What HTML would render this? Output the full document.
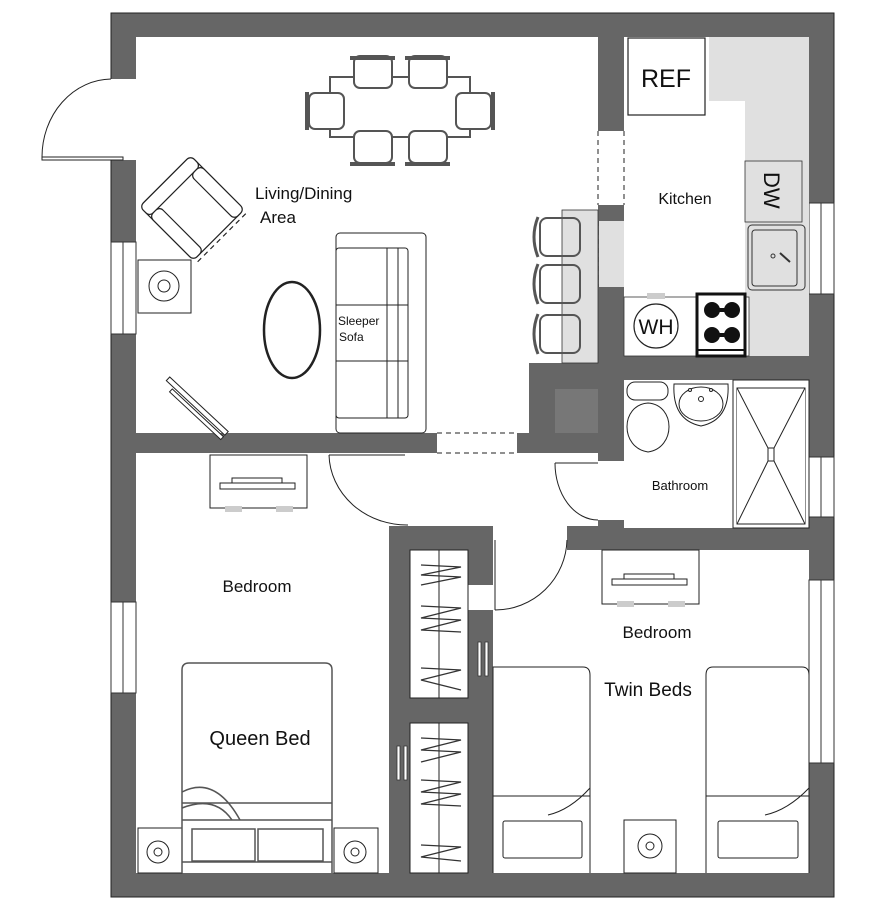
<!DOCTYPE html>
<html><head><meta charset="utf-8"><style>
html,body{margin:0;padding:0;background:#fff;}
svg{display:block;}
text{font-family:"Liberation Sans",Arial,sans-serif;fill:#111;}
</style></head><body>
<svg width="892" height="903" viewBox="0 0 892 903" xmlns="http://www.w3.org/2000/svg">
<rect x="0" y="0" width="892" height="903" fill="#fff"/>
<!-- walls -->
<rect x="111" y="13" width="723" height="884" fill="#666" stroke="#222" stroke-width="1"/>
<g fill="#fff" stroke="none">
<rect x="136" y="37" width="462" height="396"/>
<rect x="624" y="37" width="185" height="319"/>
<rect x="624" y="380" width="185" height="148"/>
<rect x="597" y="461" width="28" height="59"/>
<rect x="389" y="453" width="209" height="73"/>
<rect x="493" y="525" width="74" height="26"/>
<rect x="136" y="453" width="253" height="420"/>
<rect x="493" y="550" width="316" height="323"/>
<rect x="437" y="432" width="80" height="22"/>
<rect x="597" y="131" width="28" height="74"/>
<rect x="110" y="79" width="27" height="81"/>
<rect x="468" y="585" width="26" height="25"/>
</g>
<!-- dark block -->
<rect x="529" y="363" width="69" height="70" fill="#666"/>
<rect x="555" y="389" width="43" height="44" fill="#777"/>
<!-- dashed openings -->
<g stroke="#222" stroke-width="1" stroke-dasharray="5,4" fill="none">
<line x1="437" y1="433" x2="517" y2="433"/><line x1="437" y1="453" x2="517" y2="453"/>
<line x1="598" y1="131" x2="598" y2="205"/><line x1="624" y1="131" x2="624" y2="205"/>
<line x1="598" y1="221" x2="598" y2="287"/>
</g>
<rect x="599" y="221" width="25" height="66" fill="#e0e0e0"/>
<!-- windows -->
<g fill="#fff" stroke="#333" stroke-width="1">
<rect x="111" y="242" width="25" height="92"/><line x1="123" y1="242" x2="123" y2="334"/>
<rect x="111" y="602" width="25" height="91"/><line x1="123" y1="602" x2="123" y2="693"/>
<rect x="809" y="203" width="25" height="91"/><line x1="821" y1="203" x2="821" y2="294"/>
<rect x="809" y="457" width="25" height="60"/><line x1="821" y1="457" x2="821" y2="517"/>
<rect x="809" y="580" width="25" height="183"/><line x1="821" y1="580" x2="821" y2="763"/>
</g>
<!-- doors -->
<g fill="none" stroke="#222" stroke-width="1">
<rect x="42" y="157" width="81" height="3" fill="#fff"/>
<path d="M42 157 A70 78 0 0 1 111 79"/>
<path d="M329 455 A78 72 0 0 0 408 525"/>
<line x1="329" y1="455" x2="405" y2="455"/>
<path d="M555 463 A43 57 0 0 0 598 520"/>
<line x1="555" y1="463" x2="598" y2="463"/>
<path d="M495 610 A72 72 0 0 0 567 540"/>
<line x1="495" y1="540" x2="495" y2="610"/>
</g>
<g fill="#fff" stroke="#333" stroke-width="0.8">
<rect x="478" y="642" width="3" height="34"/><rect x="485" y="642" width="3" height="34"/>
<rect x="397" y="746" width="3" height="34"/><rect x="404" y="746" width="3" height="34"/>
</g>
<!-- dining -->
<g fill="none" stroke="#555" stroke-width="2">
<rect x="330" y="77" width="140" height="60"/>
<rect x="354" y="56" width="38" height="32" rx="6" fill="#fff"/><rect x="409" y="56" width="38" height="32" rx="6" fill="#fff"/>
<rect x="354" y="131" width="38" height="32" rx="6" fill="#fff"/><rect x="409" y="131" width="38" height="32" rx="6" fill="#fff"/>
<rect x="309" y="93" width="35" height="36" rx="6" fill="#fff"/><rect x="456" y="93" width="35" height="36" rx="6" fill="#fff"/>
<line x1="350" y1="58" x2="395" y2="58" stroke-width="4"/><line x1="405" y1="58" x2="450" y2="58" stroke-width="4"/>
<line x1="350" y1="164" x2="395" y2="164" stroke-width="4"/><line x1="405" y1="164" x2="450" y2="164" stroke-width="4"/>
<line x1="307" y1="92" x2="307" y2="130" stroke-width="4"/><line x1="493" y1="92" x2="493" y2="130" stroke-width="4"/>
</g>
<!-- armchair -->
<g transform="translate(192,208) rotate(45)" fill="#fff" stroke="#222" stroke-width="1.2">
<rect x="-38" y="-36" width="76" height="72" rx="6"/>
<rect x="-38" y="-36" width="14" height="72" rx="5"/>
<rect x="-24" y="-36" width="62" height="14" rx="5"/>
<rect x="-24" y="22" width="62" height="14" rx="5"/>
<line x1="42" y1="-34" x2="42" y2="34" stroke-dasharray="5,4"/>
</g>
<!-- lamp tables -->
<g fill="#fff" stroke="#222" stroke-width="1">
<rect x="138" y="260" width="53" height="53"/><circle cx="164" cy="286" r="15"/><circle cx="164" cy="286" r="6"/>
<rect x="138" y="828" width="44" height="45"/><circle cx="158" cy="852" r="11"/><circle cx="158" cy="852" r="4"/>
<rect x="334" y="828" width="44" height="45"/><circle cx="355" cy="852" r="11"/><circle cx="355" cy="852" r="4"/>
<rect x="624" y="820" width="52" height="53"/><circle cx="650" cy="846" r="12"/><circle cx="650" cy="846" r="4"/>
</g>
<!-- TV -->
<g transform="translate(175,386) rotate(43)" fill="#fff" stroke="#222" stroke-width="1"><rect x="-10" y="-3" width="80" height="5"/><rect x="0" y="4" width="70" height="4"/></g>
<!-- coffee table -->
<ellipse cx="292" cy="330" rx="28" ry="48" fill="none" stroke="#222" stroke-width="2.5"/>
<ellipse cx="292" cy="330" rx="26" ry="46" fill="none" stroke="#fff" stroke-width="0.8"/>
<!-- sofa -->
<g fill="#fff" stroke="#222" stroke-width="1">
<rect x="336" y="233" width="90" height="200" rx="4"/>
<rect x="336" y="248" width="72" height="170" rx="3"/>
<line x1="387" y1="248" x2="387" y2="418"/><line x1="398" y1="248" x2="398" y2="418"/>
<line x1="336" y1="305" x2="408" y2="305"/><line x1="336" y1="361" x2="408" y2="361"/>
</g>
<text x="338" y="325" font-size="12">Sleeper</text><text x="339" y="341" font-size="12">Sofa</text>
<text x="255" y="199" font-size="17">Living/Dining</text><text x="260" y="223" font-size="17">Area</text>
<!-- bar -->
<rect x="562" y="210" width="36" height="153" fill="#e0e0e0" stroke="#333" stroke-width="0.8"/>
<g fill="none" stroke="#555" stroke-width="2">
<rect x="540" y="218" width="40" height="38" rx="7"/><rect x="540" y="265" width="40" height="38" rx="7"/><rect x="540" y="315" width="40" height="38" rx="7"/>
<path d="M538 217 Q530 237 538 257" stroke-width="3"/><path d="M538 264 Q530 284 538 304" stroke-width="3"/><path d="M538 314 Q530 334 538 354" stroke-width="3"/>
</g>
<!-- kitchen -->
<rect x="709" y="37" width="36" height="64" fill="#e0e0e0"/>
<rect x="745" y="37" width="64" height="319" fill="#e0e0e0"/>
<rect x="624" y="297" width="125" height="59" fill="#fff" stroke="#333" stroke-width="0.8"/>
<rect x="647" y="293" width="18" height="6" fill="#ccc"/>
<rect x="628" y="38" width="77" height="77" fill="#fff" stroke="#222" stroke-width="1.2"/>
<text x="666" y="87" font-size="25" text-anchor="middle">REF</text>
<rect x="745" y="161" width="57" height="61" fill="#e0e0e0" stroke="#333" stroke-width="0.8"/>
<text x="0" y="0" font-size="22" transform="translate(764,172) rotate(90)">DW</text>
<rect x="748" y="225" width="57" height="65" rx="4" fill="#e0e0e0" stroke="#333" stroke-width="1"/>
<rect x="752" y="230" width="45" height="56" rx="3" fill="none" stroke="#333" stroke-width="1"/>
<line x1="780" y1="253" x2="790" y2="262" stroke="#333" stroke-width="2"/>
<circle cx="773" cy="256" r="2" fill="none" stroke="#333"/>
<circle cx="656" cy="326" r="22" fill="#fff" stroke="#222" stroke-width="1.2"/>
<text x="656" y="334" font-size="21" text-anchor="middle">WH</text>
<rect x="697" y="294" width="48" height="62" fill="#fff" stroke="#111" stroke-width="3"/>
<g fill="#111"><circle cx="712" cy="310" r="8"/><circle cx="732" cy="310" r="8"/><circle cx="712" cy="335" r="8"/><circle cx="732" cy="335" r="8"/>
<rect x="712" y="308" width="20" height="4"/><rect x="712" y="333" width="20" height="4"/></g>
<line x1="697" y1="350" x2="745" y2="350" stroke="#111" stroke-width="2"/>
<text x="685" y="204" font-size="16" text-anchor="middle">Kitchen</text>
<!-- bathroom -->
<g fill="#fff" stroke="#222" stroke-width="1">
<rect x="627" y="382" width="41" height="18" rx="8"/>
<path d="M648 403 C620 405 620 448 648 452 C676 448 676 405 648 403 Z"/>
<path d="M674 384 L728 384 Q730 420 701 426 Q672 420 674 384 Z"/>
<ellipse cx="701" cy="404" rx="22" ry="17"/>
<circle cx="701" cy="399" r="2.5"/><circle cx="690" cy="390" r="1.5"/><circle cx="711" cy="390" r="1.5"/>
<rect x="733" y="380" width="76" height="148"/>
<rect x="737" y="388" width="68" height="136"/>
<path d="M737 388 L768 448 L768 461 L737 524 M805 388 L774 448 L774 461 L805 524 M768 448 L774 448 M768 461 L774 461"/>
</g>
<text x="680" y="490" font-size="13" text-anchor="middle">Bathroom</text>
<!-- closets -->
<g fill="#fff" stroke="#222" stroke-width="1">
<rect x="410" y="550" width="58" height="148"/><line x1="439" y1="550" x2="439" y2="698"/>
<rect x="410" y="723" width="58" height="150"/><line x1="439" y1="723" x2="439" y2="873"/>
</g>
<g fill="none" stroke="#333" stroke-width="1.3">
<path d="M421 565 L461 567 L421 575 L461 577 L421 585"/>
<path d="M421 606 L461 608 L421 618 L461 620 L421 630 L461 632"/>
<path d="M421 668 L461 670 L421 680 L461 690"/>
<path d="M421 738 L461 740 L421 750 L461 752 L421 762"/>
<path d="M421 780 L461 782 L421 792 L461 794 L421 804 L461 806"/>
<path d="M421 845 L461 847 L421 857 L461 861"/>
</g>
<!-- dressers -->
<g fill="#fff" stroke="#222" stroke-width="1">
<rect x="210" y="455" width="97" height="53"/><rect x="220" y="483" width="75" height="6"/><rect x="232" y="478" width="50" height="5"/>
<rect x="602" y="550" width="97" height="54"/><rect x="612" y="579" width="75" height="6"/><rect x="624" y="574" width="50" height="5"/>
</g>
<g fill="#ccc"><rect x="225" y="506" width="17" height="6"/><rect x="276" y="506" width="17" height="6"/><rect x="617" y="601" width="17" height="6"/><rect x="668" y="601" width="17" height="6"/></g>
<!-- queen bed -->
<g fill="#fff" stroke="#555" stroke-width="1.5">
<path d="M182 873 L182 670 Q182 663 189 663 L325 663 Q332 663 332 670 L332 873"/>
<line x1="182" y1="803" x2="332" y2="803"/><line x1="182" y1="820" x2="332" y2="820"/>
<path d="M182 792 Q215 775 240 820 M182 808 Q215 795 232 820" fill="none"/>
<rect x="192" y="829" width="63" height="32"/><rect x="258" y="829" width="65" height="32"/>
<line x1="182" y1="862" x2="332" y2="862"/>
</g>
<text x="260" y="745" font-size="20" text-anchor="middle">Queen Bed</text>
<!-- twin beds -->
<g fill="#fff" stroke="#222" stroke-width="1">
<path d="M493 873 L493 667 L583 667 Q590 667 590 675 L590 873"/>
<line x1="493" y1="796" x2="590" y2="796"/><path d="M548 815 Q570 810 590 788" fill="none"/>
<rect x="503" y="821" width="79" height="37" rx="2"/>
<path d="M706 873 L706 675 Q706 667 713 667 L802 667 Q809 667 809 675 L809 873"/>
<line x1="706" y1="796" x2="809" y2="796"/><path d="M765 815 Q788 810 809 788" fill="none"/>
<rect x="718" y="821" width="80" height="37" rx="2"/>
</g>
<text x="257" y="592" font-size="17" text-anchor="middle">Bedroom</text>
<text x="657" y="638" font-size="17" text-anchor="middle">Bedroom</text>
<text x="648" y="696" font-size="19" text-anchor="middle">Twin Beds</text>
</svg>
</body></html>
